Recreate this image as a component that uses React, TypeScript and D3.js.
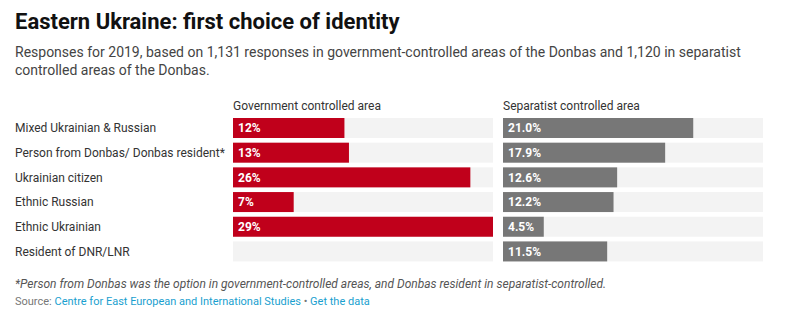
import React from "react";
import * as d3 from "d3";

const categories = [
  "Mixed Ukrainian & Russian",
  "Person from Donbas/ Donbas resident*",
  "Ukrainian citizen",
  "Ethnic Russian",
  "Ethnic Ukrainian",
  "Resident of DNR/LNR",
];
const govValues: (number | null)[] = [12.3, 12.8, 26.2, 6.7, 28.7, null];
const sepValues: (number | null)[] = [21.0, 17.9, 12.6, 12.2, 4.5, 11.5];
const govLabels = ["12%", "13%", "26%", "7%", "29%", ""];
const sepLabels = ["21.0%", "17.9%", "12.6%", "12.2%", "4.5%", "11.5%"];
const panelTitles = ["Government controlled area", "Separatist controlled area"];

const W = 787;
const H = 323;
const FONT = "Roboto, 'Noto Sans', sans-serif";

export default function App() {
  const allVals = [...govValues, ...sepValues].filter((v): v is number => v != null);
  const max = d3.max(allVals) as number;
  const panelW = 260;
  const panels = [
    { x0: 233, values: govValues, labels: govLabels, color: "#c0001b" },
    { x0: 503, values: sepValues, labels: sepLabels, color: "#777777" },
  ];
  const x = d3.scaleLinear().domain([0, max]).range([0, panelW]);
  const y = d3
    .scaleBand<string>()
    .domain(categories)
    .range([118, 118 + 24 * categories.length])
    .paddingInner(4 / 24)
    .paddingOuter(0)
    .align(0);
  const bw = 20;

  return (
    <div style={{ position: "absolute", left: 0, top: 0 }}>
      <svg width={W} height={H} style={{ display: "block", fontFamily: FONT }}>
        <rect width={W} height={H} fill="#fff" />
        <text x={15} y={29} fontSize={22} fontWeight={700} fill="#111">
          Eastern Ukraine: first choice of identity
        </text>
        <text x={15} y={57} fontSize={14} fill="#444">
          Responses for 2019, based on 1,131 responses in government-controlled areas of the Donbas and 1,120 in separatist
        </text>
        <text x={15} y={75} fontSize={14} fill="#444">
          controlled areas of the Donbas.
        </text>

        {categories.map((c) => (
          <text
            key={c}
            x={15}
            y={(y(c) as number) + bw / 2}
            dy="0.35em"
            fontSize={12}
            fill="#333"
          >
            {c}
          </text>
        ))}

        {panels.map((p, pi) => (
          <g key={pi} transform={`translate(${p.x0},0)`}>
            <text x={0} y={110} fontSize={12} fill="#333">
              {panelTitles[pi]}
            </text>
            {categories.map((c, i) => {
              const yy = y(c) as number;
              const v = p.values[i];
              return (
                <g key={c}>
                  <rect x={0} y={yy} width={panelW} height={bw} fill="#f3f3f3" />
                  {v != null && (
                    <rect x={0} y={yy} width={x(v)} height={bw} fill={p.color} />
                  )}
                  {v != null && (
                    <text
                      x={5}
                      y={yy + bw / 2}
                      dy="0.35em"
                      fontSize={12}
                      fontWeight={700}
                      fill="#fff"
                    >
                      {p.labels[i]}
                    </text>
                  )}
                </g>
              );
            })}
          </g>
        ))}

        <text x={15} y={288} fontSize={12} fontStyle="italic" fill="#555">
          *Person from Donbas was the option in government-controlled areas, and Donbas resident in separatist-controlled.
        </text>
        <text x={15} y={305} fontSize={11} fill="#777">
          Source: <tspan fill="#1a9fcf">Centre for East European and International Studies</tspan>
          <tspan fill="#777"> • </tspan>
          <tspan fill="#1a9fcf">Get the data</tspan>
        </text>
      </svg>
    </div>
  );
}
